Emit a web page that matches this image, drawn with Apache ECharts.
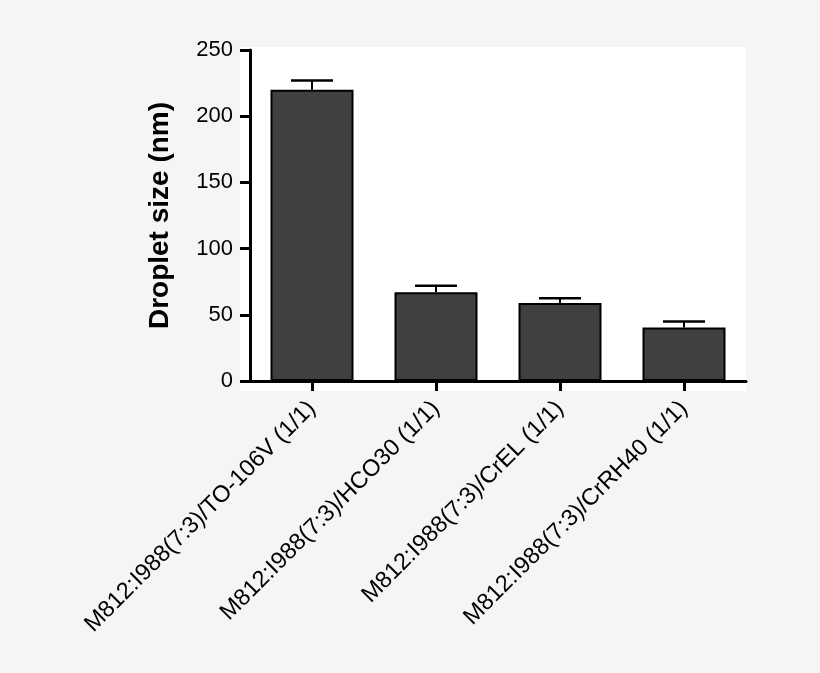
<!DOCTYPE html>
<html><head><meta charset="utf-8">
<script src="https://cdn.jsdelivr.net/npm/echarts@6/dist/echarts.min.js"></script>
<style>html,body{margin:0;padding:0;background:#f5f5f5}#c{width:820px;height:673px}</style>
</head><body><div id="c"></div>
<script>
const categories = ["M812:I988(7:3)/TO-106V (1/1)", "M812:I988(7:3)/HCO30 (1/1)", "M812:I988(7:3)/CrEL (1/1)", "M812:I988(7:3)/CrRH40 (1/1)"];
const values = [220, 67, 59, 40.5];
const errorsUpper = [227, 72, 62.5, 45];
const yTicks = [0, 50, 100, 150, 200, 250];

const font = "'Liberation Sans', Arial, sans-serif";
const chart = echarts.init(document.getElementById('c'), null, {renderer: 'canvas'});
const errData = categories.map((c, i) => [i, values[i], errorsUpper[i]]);
chart.setOption({
  backgroundColor: '#f5f5f5',
  animation: false,
  graphic: [{type: 'rect', z: -10, shape: {x: 240, y: 47, width: 506, height: 344}, style: {fill: '#ffffff'}, silent: true}],
  grid: {left: 250, top: 50, width: 496, height: 331},
  xAxis: {
    type: 'category', data: categories,
    axisLine: {lineStyle: {color: '#000', width: 3}},
    axisTick: {show: true, length: 10, lineStyle: {color: '#000', width: 3}, alignWithLabel: true},
    axisLabel: {rotate: 45, color: '#000', fontSize: 23.5, fontFamily: font, margin: 24, interval: 0}
  },
  yAxis: {
    type: 'value', min: yTicks[0], max: yTicks[yTicks.length - 1], interval: 50,
    name: 'Droplet size (nm)', nameLocation: 'middle', nameGap: 76,
    nameTextStyle: {color: '#000', fontSize: 28, fontWeight: 'bold', fontFamily: font},
    axisLine: {show: true, lineStyle: {color: '#000', width: 3}},
    axisTick: {show: true, length: 10, lineStyle: {color: '#000', width: 3}},
    axisLabel: {color: '#000', fontSize: 22, fontFamily: font, margin: 17},
    splitLine: {show: false}
  },
  series: [
    {
      type: 'bar', data: values, barWidth: 83,
      itemStyle: {color: '#404040', borderColor: '#000', borderWidth: 2}
    },
    {
      type: 'custom', data: errData, z: 1,
      renderItem: function (params, api) {
        const x = api.value(0);
        const top = api.coord([x, api.value(2)]);
        const base = api.coord([x, api.value(1)]);
        const hw = 21;
        return {type: 'group', children: [
          {type: 'line', shape: {x1: top[0], y1: top[1], x2: base[0], y2: base[1]}, style: {stroke: '#000', lineWidth: 2}},
          {type: 'line', shape: {x1: top[0] - hw, y1: top[1], x2: top[0] + hw, y2: top[1]}, style: {stroke: '#000', lineWidth: 2.5}}
        ]};
      }
    }
  ]
});
</script></body></html>
